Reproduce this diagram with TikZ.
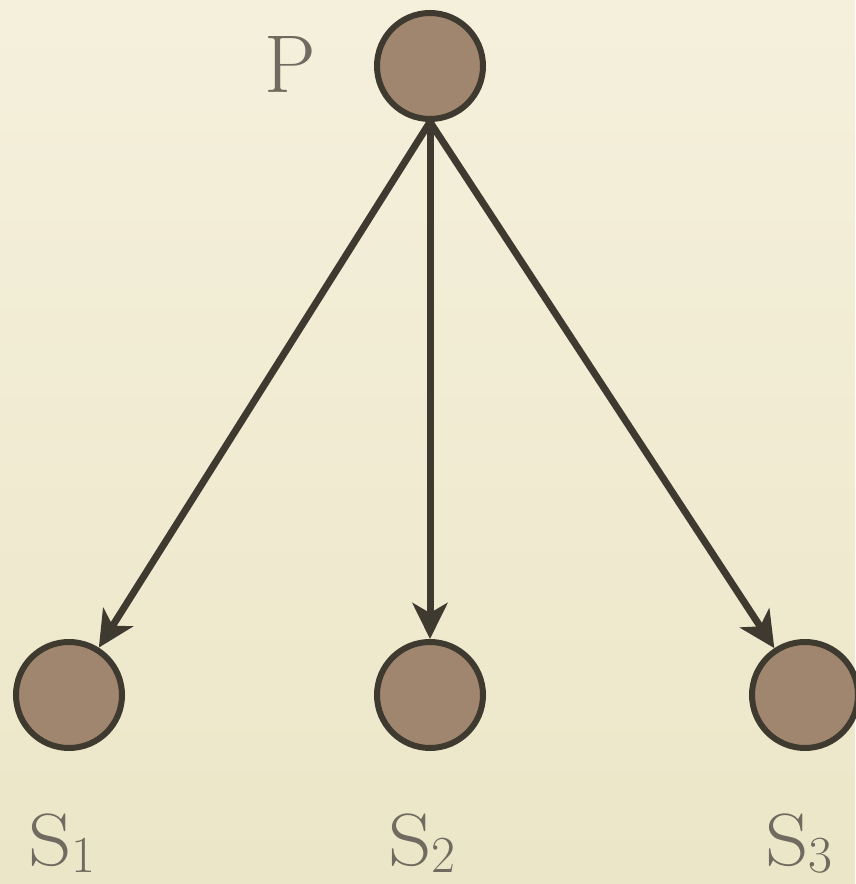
\documentclass[tikz,border=0pt]{standalone}
\usetikzlibrary{arrows.meta}
\definecolor{bgc}{RGB}{245,240,220}
\definecolor{bgd}{RGB}{236,230,200}
\definecolor{fillc}{RGB}{160,134,110}
\definecolor{edgec}{RGB}{62,58,48}
\definecolor{textc}{RGB}{112,106,96}
\tikzset{
  state/.style={circle, draw=edgec, line width=6pt, fill=fillc, minimum size=106pt, inner sep=0pt},
  lbl/.style={text=textc, font=\fontsize{74}{76}\selectfont, inner sep=0pt, anchor=base west},
  plbl/.style={text=textc, font=\fontsize{82}{84}\selectfont, inner sep=0pt, anchor=base west},
  conn/.style={draw=edgec, line width=7pt, -{Stealth[length=36pt, width=35pt, inset=10pt]}}
}
\newcommand{\bigS}{\scalebox{1.15}[1]{S}}
\newcommand{\subl}[1]{{\fontsize{52}{54}\selectfont\raisebox{-7pt}{#1}}}
\begin{document}
\begin{tikzpicture}[x=1pt,y=1pt]
  \shade[bottom color=bgd, top color=bgc] (0,0) rectangle (855,884);
  \useasboundingbox (0,0) rectangle (855,884);
  \node[state] (P) at (430,818) {};
  \node[state] (S1) at (69,189) {};
  \node[state] (S2) at (430,189) {};
  \node[state] (S3) at (805,189) {};
  \node[plbl] (LP) at (264,791) {P};
  \node[lbl] (L1) at (28,18) {\bigS\subl{1}};
  \node[lbl] (L2) at (388,18) {\bigS\subl{2}};
  \node[lbl] (L3) at (765,18) {\bigS\subl{3}};
  \draw[conn] (P.south) -- (S1);
  \draw[conn] (P.south) -- (S2);
  \draw[conn] (P.south) -- (S3);
\end{tikzpicture}
\end{document}
